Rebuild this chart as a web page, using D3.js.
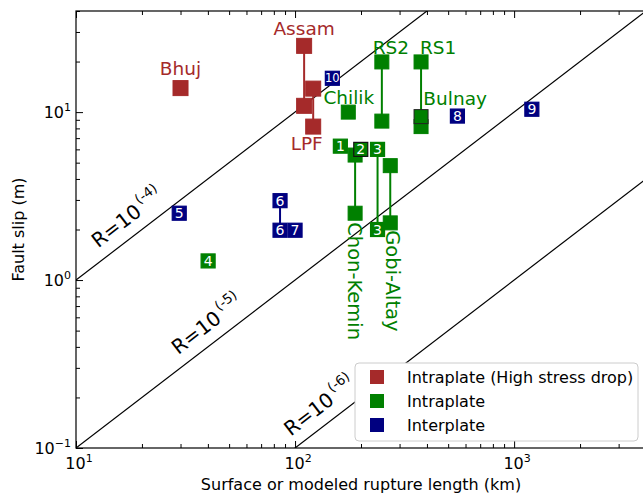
<!DOCTYPE html>
<html><head><meta charset="utf-8">
<script src="https://cdn.jsdelivr.net/npm/d3@7"></script>
<style>body{margin:0;background:#fff} text{font-family:"DejaVu Sans",sans-serif}</style>
</head><body><svg id="c" width="643" height="495"></svg>
<script>
// ---- data ----
const xTickValues = [10, 100, 1000];
const xTickExps = ["1", "2", "3"];
const yTickValues = [0.1, 1, 10];
const yTickExps = ["\u22121", "0", "1"];
const ratioExps = [-4, -5, -6];
const ratioLabelAtL = [13.6, 31.5, 103];

// [length km, slip m]
const highStressPts = [[30, 13.9], [110, 24.8], [110, 10.9], [121, 13.8], [121, 8.2]];
const highStressSegs = [[110, 24.8, 10.9], [121, 13.8, 8.2]];
const intraPts = [[175, 10], [249, 19.9], [249, 8.84], [376, 19.9], [376, 8.2], [188, 5.55], [188, 2.5], [272, 4.8], [272, 2.19]];
const intraSegs = [[249, 19.9, 8.84], [376, 19.9, 9.4], [188, 5.55, 2.5], [238, 6.0, 2.0], [272, 4.8, 2.19]];
const intraOutlinedPts = [[376, 9.4]];
const intraNumbered = [[161, 6.27, "1"], [199.5, 6.0, "2"], [238, 6.0, "3"], [238, 2.0, "3"], [40.1, 1.3, "4"]];
const interNumbered = [[29.6, 2.5, "5"], [85.4, 2.97, "6"], [85.4, 1.98, "6"], [100, 1.98, "7"], [551, 9.47, "8"], [1205, 10.4, "9"], [148, 15.9, "10"]];
const interSegs = [[85.4, 2.97, 1.98]];
const outlinedNumbers = ["2"];

const highStressLabels = [["Assam", 110, 31.6], ["Bhuj", 30, 18.3], ["LPF", 113, 6.54]];
const intraLabels = [["RS2", 274, 24.4], ["RS1", 450, 24.4], ["Chilik", 176, 12.3], ["Bulnay", 538, 12.1]];
const intraVerticalLabels = [["Chon-Kemin", 188, 2.21], ["Gobi-Altay", 280, 1.98]];

const legendLabels = ["Intraplate (High stress drop)", "Intraplate", "Interplate"];
const colors = {high: "#a52a2a", intra: "#008000", inter: "#000080"};
const legendColors = [colors.high, colors.intra, colors.inter];

// ---- layout ----
const L = 76, R = 646, T = 11, B = 448;
const svg = d3.select("#c");
const x = d3.scaleLog().domain([10, 4000]).range([L, R]);
const y = d3.scaleLog().domain([0.1, 40]).range([B, T]);

svg.append("defs").append("clipPath").attr("id", "clip")
  .append("rect").attr("x", L).attr("y", T).attr("width", R - L).attr("height", B - T);

// ratio lines
const lineGen = d3.line().x(d => x(d[0])).y(d => y(d[1]));
const plot = svg.append("g").attr("clip-path", "url(#clip)");
ratioExps.forEach(e => {
  const f = l => Math.pow(10, e) * l * 1000;
  plot.append("path").datum([[10, f(10)], [4000, f(4000)]])
    .attr("d", lineGen).attr("fill", "none").attr("stroke", "#000").attr("stroke-width", 1.2);
});
const ang = Math.atan2(y(10) - y(1), x(10) - x(1)) * 180 / Math.PI;
ratioExps.forEach((e, i) => {
  const l0 = ratioLabelAtL[i];
  const px = x(l0), py = y(Math.pow(10, e) * l0 * 1000);
  const rad = ang * Math.PI / 180;
  const off = 11.5;
  const tx = px + off * Math.sin(rad), ty = py - off * Math.cos(rad);
  const t = svg.append("text").attr("transform", `translate(${tx},${ty}) rotate(${ang})`)
    .attr("font-size", 20).attr("fill", "#000");
  t.append("tspan").text("R=10");
  t.append("tspan").attr("dx", 3).attr("dy", -10).attr("font-size", 13.5).text(`(${e})`);
});

// segments
function drawSegs(segs, color) {
  svg.append("g").selectAll("line").data(segs).join("line")
    .attr("x1", d => x(d[0])).attr("x2", d => x(d[0]))
    .attr("y1", d => y(d[1])).attr("y2", d => y(d[2]))
    .attr("stroke", color).attr("stroke-width", 2);
}
drawSegs(highStressSegs, colors.high);
drawSegs(intraSegs, colors.intra);
drawSegs(interSegs, colors.inter);

function drawSquares(pts, color, size, stroke) {
  svg.append("g").selectAll("rect").data(pts).join("rect")
    .attr("x", d => x(d[0]) - size / 2).attr("y", d => y(d[1]) - size / 2)
    .attr("width", size).attr("height", size)
    .attr("fill", color).attr("stroke", stroke || color).attr("stroke-width", 1);
}
drawSquares(highStressPts, colors.high, 15);
drawSquares(intraPts, colors.intra, 14);
drawSquares(intraOutlinedPts, colors.intra, 14, "#222");

function drawNumbered(pts, color) {
  const g = svg.append("g").selectAll("g").data(pts).join("g")
    .attr("transform", d => `translate(${x(d[0])},${y(d[1])})`);
  g.append("rect").attr("x", -7).attr("y", -7).attr("width", 14).attr("height", 14)
    .attr("fill", color)
    .attr("stroke", d => outlinedNumbers.includes(d[2]) ? "#111" : color).attr("stroke-width", 1.2);
  g.append("text").attr("text-anchor", "middle").attr("dy", "0.36em")
    .attr("font-size", d => d[2].length > 1 ? 11.5 : 14).attr("fill", "#fff").text(d => d[2]);
}
drawNumbered(intraNumbered, colors.intra);
drawNumbered(interNumbered, colors.inter);

// event labels
function drawLabels(lbls, color) {
  svg.append("g").selectAll("text").data(lbls).join("text")
    .attr("x", d => x(d[1])).attr("y", d => y(d[2])).attr("dy", "0.36em")
    .attr("text-anchor", "middle").attr("font-size", 18.5).attr("fill", color).text(d => d[0]);
}
drawLabels(highStressLabels, colors.high);
drawLabels(intraLabels, colors.intra);
svg.append("g").selectAll("text").data(intraVerticalLabels).join("text")
  .attr("transform", d => `translate(${x(d[1])},${y(d[2])}) rotate(90)`)
  .attr("dy", "0.36em").attr("text-anchor", "start").attr("font-size", 19.5)
  .attr("fill", colors.intra).text(d => d[0]);

// axes (inward ticks)
const allX = x.ticks().filter(v => v >= 10 && v <= 4000);
const minorX = allX.filter(v => !xTickValues.includes(v));
const allY = y.ticks().filter(v => v >= 0.1 && v <= 40);
const minorY = allY.filter(v => !yTickValues.some(t => Math.abs(t - v) < 1e-9));
function styleAxis(g) {
  g.select(".domain").remove();
  g.selectAll("line").attr("stroke", "#000").attr("stroke-width", 1);
}
svg.append("g").attr("transform", `translate(0,${B})`).call(d3.axisBottom(x).tickValues(xTickValues).tickSize(-7).tickFormat("")).call(styleAxis);
svg.append("g").attr("transform", `translate(0,${B})`).call(d3.axisBottom(x).tickValues(minorX).tickSize(-4).tickFormat("")).call(styleAxis);
svg.append("g").attr("transform", `translate(0,${T})`).call(d3.axisTop(x).tickValues(xTickValues).tickSize(-7).tickFormat("")).call(styleAxis);
svg.append("g").attr("transform", `translate(0,${T})`).call(d3.axisTop(x).tickValues(minorX).tickSize(-4).tickFormat("")).call(styleAxis);
svg.append("g").attr("transform", `translate(${L},0)`).call(d3.axisLeft(y).tickValues(yTickValues).tickSize(-7).tickFormat("")).call(styleAxis);
svg.append("g").attr("transform", `translate(${L},0)`).call(d3.axisLeft(y).tickValues(minorY).tickSize(-4).tickFormat("")).call(styleAxis);
svg.append("rect").attr("x", L).attr("y", T).attr("width", R - L).attr("height", B - T)
  .attr("fill", "none").attr("stroke", "#000").attr("stroke-width", 1.2);

// tick labels
xTickValues.forEach((v, i) => {
  const t = svg.append("text").attr("x", x(v) + 3).attr("y", 469).attr("text-anchor", "middle").attr("font-size", 16);
  t.append("tspan").text("10");
  t.append("tspan").attr("dy", -7).attr("font-size", 11).text(xTickExps[i]);
});
yTickValues.forEach((v, i) => {
  const t = svg.append("text").attr("x", 71).attr("y", y(v) + 6).attr("text-anchor", "end").attr("font-size", 16);
  t.append("tspan").text("10");
  t.append("tspan").attr("dy", -7).attr("font-size", 11).text(yTickExps[i]);
});
svg.append("text").attr("x", (L + R) / 2).attr("y", 490).attr("text-anchor", "middle").attr("font-size", 16)
  .text("Surface or modeled rupture length (km)");
svg.append("text").attr("transform", `translate(24,${(T + B) / 2}) rotate(-90)`).attr("text-anchor", "middle")
  .attr("font-size", 16).text("Fault slip (m)");

// legend
const lg = svg.append("g");
lg.append("rect").attr("x", 355).attr("y", 363).attr("width", 283).attr("height", 78).attr("rx", 4)
  .attr("fill", "#fff").attr("stroke", "#cccccc").attr("stroke-width", 1);
legendLabels.forEach((lab, i) => {
  const cy = 377 + i * 24;
  lg.append("rect").attr("x", 370).attr("y", cy - 7).attr("width", 14).attr("height", 14).attr("fill", legendColors[i]);
  lg.append("text").attr("x", 407).attr("y", cy).attr("dy", "0.36em").attr("font-size", 16).text(lab);
});
</script></body></html>
